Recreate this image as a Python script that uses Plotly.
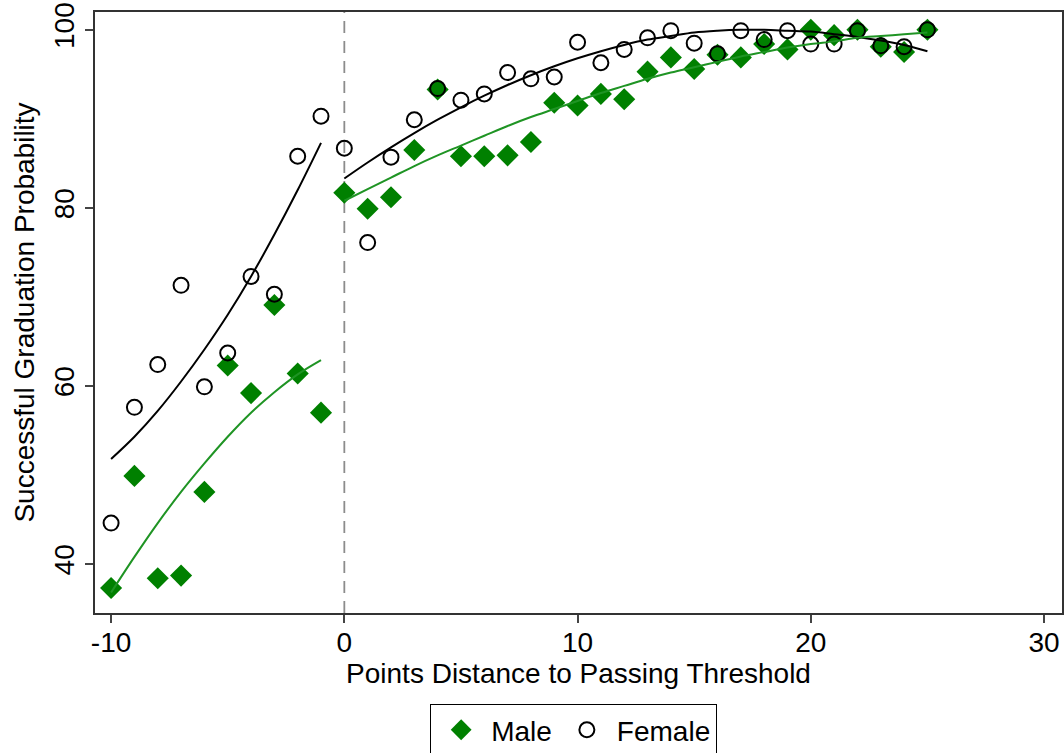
import plotly.graph_objects as go

# Distance to threshold (points)
x_left = [-10, -9, -8, -7, -6, -5, -4, -3, -2, -1]
x_right = list(range(0, 26))

# Observed graduation probabilities
male_left = [37.3, 49.9, 38.4, 38.7, 48.1, 62.3, 59.2, 69.1, 61.4, 57.0]
female_left = [44.6, 57.6, 62.4, 71.3, 59.9, 63.7, 72.3, 70.3, 85.8, 90.3]

male_right = [81.7, 79.9, 81.2, 86.5, 93.3, 85.8, 85.8, 85.9, 87.4, 91.8,
              91.5, 92.8, 92.2, 95.3, 96.9, 95.6, 97.2, 96.9, 98.4, 97.8,
              100.0, 99.4, 100.0, 98.1, 97.5, 100.0]
female_right = [86.7, 76.1, 85.7, 89.9, 93.4, 92.1, 92.8, 95.2, 94.5, 94.7,
                98.6, 96.3, 97.8, 99.1, 99.9, 98.5, 97.3, 99.9, 98.9, 99.9,
                98.4, 98.4, 99.9, 98.2, 98.1, 100.0]

# Fitted (quadratic) curves
male_fit_left = [36.8, 40.8, 44.6, 48.1, 51.3, 54.3, 57.0, 59.3, 61.3, 62.9]
female_fit_left = [51.8, 54.3, 57.2, 60.5, 64.1, 68.0, 72.3, 77.0, 82.0, 87.3]
male_fit_right = [80.8, 82.1, 83.4, 84.7, 85.9, 87.0, 88.1, 89.2, 90.2, 91.1,
                  92.0, 92.9, 93.7, 94.5, 95.2, 95.8, 96.4, 97.0, 97.5, 98.0,
                  98.4, 98.7, 99.1, 99.3, 99.5, 99.7]
female_fit_right = [83.3, 85.1, 86.8, 88.4, 89.9, 91.3, 92.6, 93.8, 94.9, 95.9,
                    96.8, 97.6, 98.3, 98.9, 99.3, 99.7, 99.9, 100.0, 100.0, 99.9,
                    99.8, 99.5, 99.2, 98.8, 98.3, 97.6]

x_ticks = [-10, 0, 10, 20, 30]
x_ticktext = ["-10", "0", "10", "20", "30"]
y_ticks = [40, 60, 80, 100]

MARK_GREEN = "#008000"
LINE_GREEN = "#1f9424"
FONT = "Liberation Sans, Arial, sans-serif"

fig = go.Figure()

fig.add_trace(go.Scatter(
    x=x_left + x_right, y=male_left + male_right, mode="markers", name="Male",
    marker=dict(symbol="diamond", size=17, color=MARK_GREEN, line=dict(width=0)),
))
fig.add_trace(go.Scatter(
    x=x_left + x_right, y=female_left + female_right, mode="markers", name="Female",
    marker=dict(symbol="circle-open", size=15, color="black", line=dict(width=2, color="black")),
))

for xs, ys, col in [(x_left, female_fit_left, "black"), (x_right, female_fit_right, "black"),
                    (x_left, male_fit_left, LINE_GREEN), (x_right, male_fit_right, LINE_GREEN)]:
    fig.add_trace(go.Scatter(x=xs, y=ys, mode="lines", showlegend=False,
                             line=dict(color=col, width=2, shape="spline"),
                             hoverinfo="skip"))

fig.add_shape(type="line", xref="x", yref="paper", x0=0, x1=0, y0=0, y1=1,
              line=dict(color="#8c8c8c", width=1.8, dash="12px,8px"), layer="below")

fig.update_layout(
    width=1064, height=753,
    margin=dict(l=95, r=2, t=12, b=140, autoexpand=False),
    paper_bgcolor="white", plot_bgcolor="white",
    font=dict(family=FONT, size=28, color="black"),
    showlegend=True,
    legend=dict(orientation="h", x=0.495, xanchor="center",
                yref="container", y=0.065, yanchor="top",
                bordercolor="black", borderwidth=1, font=dict(size=28),
                itemsizing="trace", itemwidth=50, bgcolor="white"),
    xaxis=dict(range=[-10.69, 30.77], tickvals=x_ticks, ticktext=x_ticktext,
               ticks="outside", ticklen=8, automargin=False, ticklabeloverflow="allow",
               ticklabelstandoff=-4,
               tickwidth=1.5, showgrid=False, zeroline=False, showline=True,
               linecolor="#333333", linewidth=1.5, mirror=True,
               title=dict(text="Points Distance to Passing Threshold", standoff=1,
                          font=dict(size=28))),
    yaxis=dict(range=[34.5, 102], tickvals=y_ticks, ticks="outside", ticklen=8,
               automargin=False, ticklabeloverflow="allow",
               tickwidth=1.5, tickangle=-90, showgrid=False, zeroline=False, showline=True,
               linecolor="#333333", linewidth=1.5, mirror=True,
               title=dict(text="Successful Graduation Probability", standoff=6,
                          font=dict(size=28))),
)

# remove the default 8px page margin so the 1064x753 figure fills the window exactly
fig.write_html("out.html", config={"displayModeBar": False},
               post_script="document.body.style.margin='0';")
